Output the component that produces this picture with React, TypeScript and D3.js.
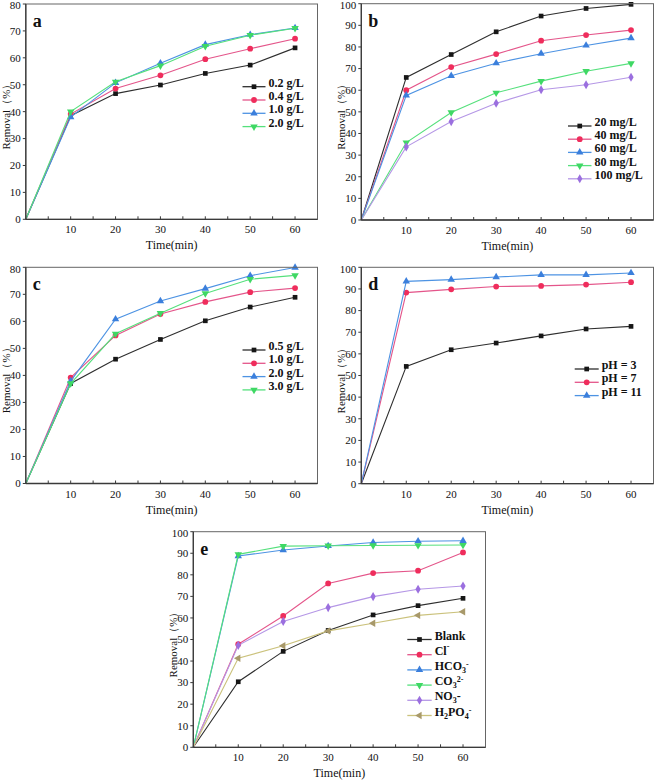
import React from 'react';
import * as d3 from 'd3';

const TIMES = [0, 10, 20, 30, 40, 50, 60];
const X_TICKS = [10, 20, 30, 40, 50, 60];

const A_LABELS = ['0.2 g/L', '0.4 g/L', '1.0 g/L', '2.0 g/L'];
const A_VALUES = [
  [0, 38.5, 46.7, 49.9, 54.2, 57.3, 63.7],
  [0, 39.1, 48.6, 53.5, 59.5, 63.4, 67.1],
  [0, 38.0, 50.7, 58.0, 64.9, 68.6, 71.1],
  [0, 40.0, 51.1, 57.1, 64.3, 68.4, 71.0],
];

const B_LABELS = ['20 mg/L', '40 mg/L', '60 mg/L', '80 mg/L', '100 mg/L'];
const B_VALUES = [
  [0, 65.9, 76.5, 87.0, 94.3, 97.8, 99.7],
  [0, 60.0, 70.7, 76.7, 82.9, 85.5, 87.8],
  [0, 57.6, 66.7, 72.5, 76.9, 80.7, 84.1],
  [0, 35.8, 49.7, 58.8, 64.2, 68.8, 72.4],
  [0, 33.8, 45.5, 54.0, 60.2, 62.5, 66.0],
];

const C_LABELS = ['0.5 g/L', '1.0 g/L', '2.0 g/L', '3.0 g/L'];
const C_VALUES = [
  [0, 37.0, 46.0, 53.3, 60.2, 65.3, 68.9],
  [0, 39.2, 54.8, 62.7, 67.2, 70.8, 72.3],
  [0, 37.9, 60.8, 67.5, 72.1, 76.9, 79.9],
  [0, 37.0, 55.4, 63.0, 70.3, 75.6, 77.0],
];

const D_LABELS = ['pH = 3', 'pH = 7', 'pH = 11'];
const D_VALUES = [
  [0, 54.2, 61.9, 65.0, 68.3, 71.5, 72.7],
  [0, 88.3, 89.8, 91.1, 91.4, 92.0, 93.1],
  [0, 93.5, 94.3, 95.5, 96.5, 96.5, 97.4],
];

// label segments: [text, 'sub' | 'sup' | '']
const E_LABELS: [string, string][][] = [
  [['Blank', '']],
  [['Cl', ''], ['-', 'sup']],
  [['HCO', ''], ['3', 'sub'], ['-', 'sup']],
  [['CO', ''], ['3', 'sub'], ['2-', 'sup']],
  [['NO', ''], ['3', 'sub'], ['-', '']],
  [['H', ''], ['2', 'sub'], ['PO', ''], ['4', 'sub'], ['-', 'sup']],
];
const E_VALUES = [
  [0, 30.4, 44.5, 54.2, 61.4, 65.7, 69.1],
  [0, 47.8, 60.9, 76.0, 80.8, 81.9, 90.4],
  [0, 88.7, 91.5, 93.4, 95.0, 95.6, 95.8],
  [0, 89.5, 93.3, 93.5, 93.6, 93.7, 93.8],
  [0, 47.3, 58.4, 64.8, 69.9, 73.3, 74.8],
  [0, 41.3, 47.1, 54.0, 57.5, 61.2, 62.9],
];

const LINE_COLORS = ['#2e2e2e', '#e4558a', '#4d93e3', '#55e07c', '#b597e6', '#cbc27c'];
const MARK_COLORS = ['#161616', '#ef2d5c', '#3b7fdc', '#3fd864', '#9b6fdf', '#a8996a'];
const MARKERS = ['square', 'circle', 'triUp', 'triDown', 'diamond', 'triLeft'];

const FONT = '"Liberation Serif", "Times New Roman", serif';

function markerPath(kind: string): { d: string; rot: number } {
  switch (kind) {
    case 'square':
      return { d: d3.symbol(d3.symbolSquare, 22)() as string, rot: 0 };
    case 'circle':
      return { d: d3.symbol(d3.symbolCircle, 26)() as string, rot: 0 };
    case 'triUp':
      return { d: d3.symbol(d3.symbolTriangle, 24)() as string, rot: 0 };
    case 'triDown':
      return { d: d3.symbol(d3.symbolTriangle, 24)() as string, rot: 180 };
    case 'diamond':
      return { d: d3.symbol(d3.symbolDiamond, 24)() as string, rot: 0 };
    default:
      return { d: d3.symbol(d3.symbolTriangle, 24)() as string, rot: -90 };
  }
}

function Marker({ x, y, i }: { x: number; y: number; i: number }) {
  const m = markerPath(MARKERS[i]);
  return (
    <path
      d={m.d}
      transform={`translate(${x},${y}) rotate(${m.rot})`}
      fill={MARK_COLORS[i]}
    />
  );
}

function LegendLabel({ parts, x, y }: { parts: [string, string][]; x: number; y: number }) {
  return (
    <text x={x} y={y} dy="0.35em" fontFamily={FONT} fontWeight="bold" fontSize={12} fill="#111">
      {parts.map(([t, k], j) => {
        if (k === 'sub')
          return (
            <tspan key={j} fontSize={8} dy={3}>
              {t}
            </tspan>
          );
        if (k === 'sup')
          return (
            <tspan key={j} fontSize={8} dy={-6}>
              {t}
            </tspan>
          );
        const prev = j > 0 ? parts[j - 1][1] : '';
        const dy = prev === 'sub' ? -3 : prev === 'sup' ? 6 : 0;
        return (
          <tspan key={j} dy={dy}>
            {t}
          </tspan>
        );
      })}
    </text>
  );
}

type PanelProps = {
  letter: string;
  left: number;
  right: number;
  top: number;
  bottom: number;
  yMax: number;
  values: number[][];
  labels: [string, string][][];
  legX: number;
  legY: number;
  legStep: number;
  legLine: number;
};

function Panel(p: PanelProps) {
  const x = d3.scaleLinear().domain([0, 65]).range([p.left, p.right]);
  const y = d3.scaleLinear().domain([0, p.yMax]).range([p.bottom, p.top]);
  const yTicks = d3.range(0, p.yMax + 1, 10);
  const minorX = d3.range(5, 65, 5);
  const line = d3
    .line<number>()
    .x((_, i) => x(TIMES[i]))
    .y((v) => y(v));
  const axisColor = '#3a3a3a';
  return (
    <g>
      {/* series */}
      {p.values.map((vals, si) => (
        <g key={si}>
          <path d={line(vals) as string} fill="none" stroke={LINE_COLORS[si]} strokeWidth={1.1} />
          {vals.map((v, k) => (k === 0 ? null : <Marker key={k} x={x(TIMES[k])} y={y(v)} i={si} />))}
        </g>
      ))}
      {/* frame */}
      <rect
        x={p.left}
        y={p.top}
        width={p.right - p.left}
        height={p.bottom - p.top}
        fill="none"
        stroke="#666"
        strokeWidth={1}
      />
      <line x1={p.left} x2={p.left} y1={p.top} y2={p.bottom} stroke={axisColor} strokeWidth={1.3} />
      <line x1={p.left} x2={p.right} y1={p.bottom} y2={p.bottom} stroke={axisColor} strokeWidth={1.3} />
      {/* x ticks */}
      {minorX.map((t) => (
        <line key={t} x1={x(t)} x2={x(t)} y1={p.bottom} y2={p.bottom - 3} stroke={axisColor} strokeWidth={1} />
      ))}
      {X_TICKS.map((t) => (
        <text
          key={t}
          x={x(t)}
          y={p.bottom + 14}
          textAnchor="middle"
          fontFamily={FONT}
          fontSize={11}
          fill="#111"
        >
          {t}
        </text>
      ))}
      {/* y ticks */}
      {yTicks.map((t) => (
        <g key={t}>
          <line x1={p.left - 3} x2={p.left} y1={y(t)} y2={y(t)} stroke={axisColor} strokeWidth={1} />
          <text
            x={p.left - 5}
            y={Math.max(y(t), p.top + 1.5)}
            dy="0.35em"
            textAnchor="end"
            fontFamily={FONT}
            fontSize={11}
            fill="#111"
          >
            {t}
          </text>
        </g>
      ))}
      {/* axis titles */}
      <text
        x={(p.left + p.right) / 2}
        y={p.bottom + 30}
        textAnchor="middle"
        fontFamily={FONT}
        fontSize={12}
        fill="#111"
      >
        Time(min)
      </text>
      <text
        transform={`translate(${p.left - 16},${(p.top + p.bottom) / 2 + 2.5}) rotate(-90)`}
        textAnchor="middle"
        fontFamily={FONT}
        fontSize={11}
        fill="#111"
      >
        Removal（%）
      </text>
      {/* panel letter */}
      <text x={p.left + 7} y={p.top + 23} fontFamily={FONT} fontWeight="bold" fontSize={18} fill="#111">
        {p.letter}
      </text>
      {/* legend */}
      {p.labels.map((lab, i) => {
        const ly = p.legY + i * p.legStep;
        return (
          <g key={i}>
            <line
              x1={p.legX}
              x2={p.legX + p.legLine}
              y1={ly}
              y2={ly}
              stroke={LINE_COLORS[i]}
              strokeWidth={1.3}
            />
            <Marker x={p.legX + p.legLine / 2} y={ly} i={i} />
            <LegendLabel parts={lab} x={p.legX + p.legLine + 3} y={ly} />
          </g>
        );
      })}
    </g>
  );
}

const simple = (arr: string[]): [string, string][][] => arr.map((s) => [[s, '']]);

export default function App() {
  return (
    <svg
      width={658}
      height={781}
      style={{ position: 'absolute', left: 0, top: 0, background: '#fff' }}
    >
      <Panel
        letter="a"
        left={25.8}
        right={317.5}
        top={4}
        bottom={219.3}
        yMax={80}
        values={A_VALUES}
        labels={simple(A_LABELS)}
        legX={242.5}
        legY={86.7}
        legStep={13.3}
        legLine={23}
      />
      <Panel
        letter="b"
        left={361.3}
        right={653.5}
        top={3.7}
        bottom={220}
        yMax={100}
        values={B_VALUES}
        labels={simple(B_LABELS)}
        legX={568}
        legY={126}
        legStep={13.2}
        legLine={23.5}
      />
      <Panel
        letter="c"
        left={25.8}
        right={317.5}
        top={267.3}
        bottom={483.5}
        yMax={80}
        values={C_VALUES}
        labels={simple(C_LABELS)}
        legX={242.5}
        legY={350}
        legStep={13.3}
        legLine={23}
      />
      <Panel
        letter="d"
        left={361.3}
        right={653.5}
        top={267.3}
        bottom={483.7}
        yMax={100}
        values={D_VALUES}
        labels={simple(D_LABELS)}
        legX={574.7}
        legY={369}
        legStep={13.3}
        legLine={24}
      />
      <Panel
        letter="e"
        left={193.3}
        right={485.5}
        top={531.7}
        bottom={747.3}
        yMax={100}
        values={E_VALUES}
        labels={E_LABELS}
        legX={407.3}
        legY={639.5}
        legStep={15.2}
        legLine={24.4}
      />
    </svg>
  );
}
